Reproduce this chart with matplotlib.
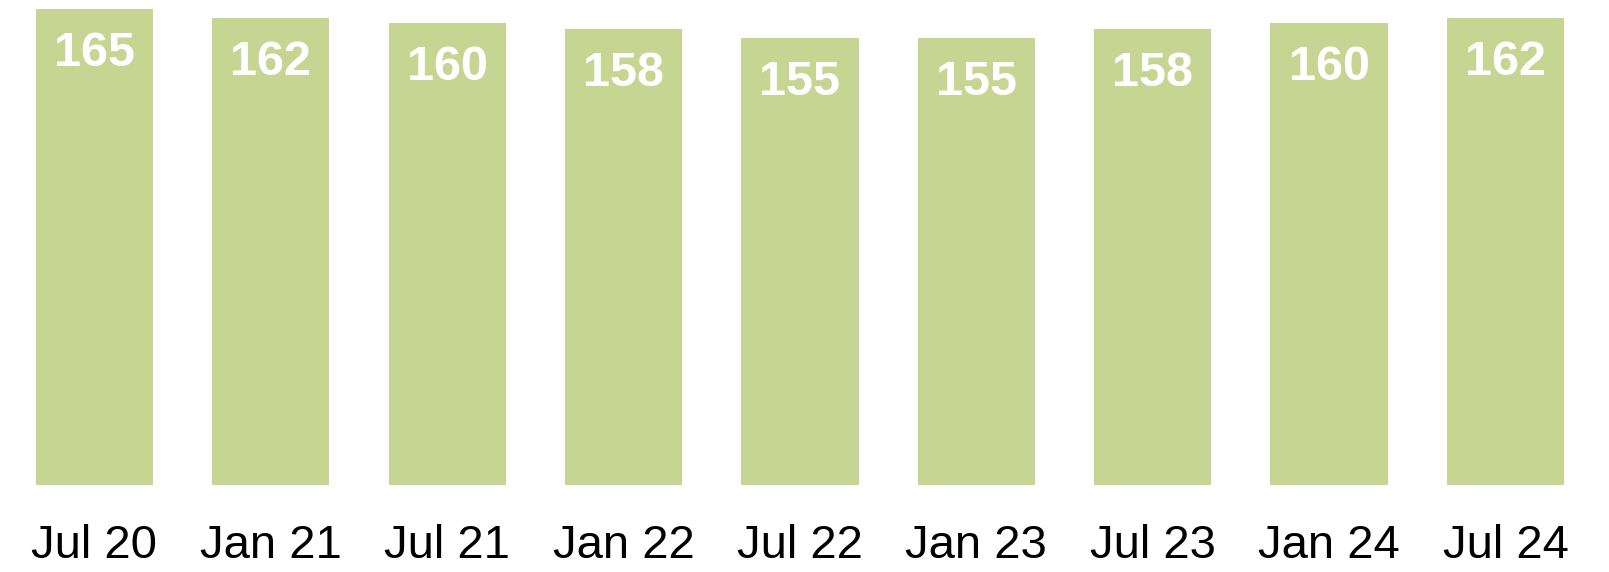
import matplotlib
matplotlib.use("Agg")
import matplotlib.pyplot as plt

categories = ["Jul 20", "Jan 21", "Jul 21", "Jan 22", "Jul 22", "Jan 23", "Jul 23", "Jan 24", "Jul 24"]
values = [165, 162, 160, 158, 155, 155, 158, 160, 162]

plt.rcParams['font.family'] = ['Liberation Sans', 'DejaVu Sans']
fig = plt.figure(figsize=(16.09, 5.72), dpi=100)
W, H = 1609, 572
ax = fig.add_axes([6.2 / W, (H - 485) / H, (1593.7 - 6.2) / W, (485 - 9) / H])
x = list(range(len(categories)))
bars = ax.bar(x, values, width=0.665, color="#C7D593")
ax.set_xlim(-0.5, len(categories) - 0.5)
ax.set_ylim(0, 165)
for xi, v in zip(x, values):
    ax.annotate(str(v), (xi, v), xytext=(0, -22), textcoords="offset pixels",
                ha="center", va="top", color="white", fontsize=35, fontweight="bold")
ax.set_xticks(x)
ax.set_xticklabels(categories, fontsize=34, color="black")
ax.tick_params(axis="x", length=0, pad=28)
ax.set_yticks([])
for s in ax.spines.values():
    s.set_visible(False)
fig.savefig("out.png", dpi=100)
